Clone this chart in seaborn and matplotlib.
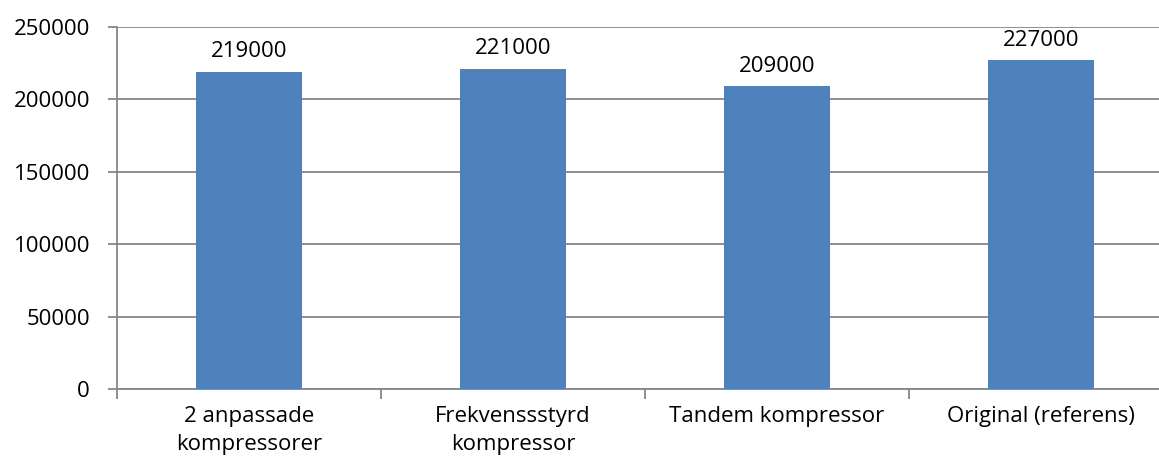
import matplotlib
matplotlib.use("Agg")
import matplotlib.pyplot as plt
import seaborn as sns
import pandas as pd

# Data
categories = ["2 anpassade\nkompressorer", "Frekvenssstyrd\nkompressor",
              "Tandem kompressor", "Original (referens)"]
values = [219000, 221000, 209000, 227000]
yticks = [0, 50000, 100000, 150000, 200000, 250000]

df = pd.DataFrame({"Alternativ": categories, "Värde": values})

sns.set_style("white")
plt.rcParams["font.family"] = ["Open Sans", "DejaVu Sans"]
plt.rcParams["text.color"] = "black"
plt.rcParams["xtick.color"] = "black"
plt.rcParams["ytick.color"] = "black"

grid_color = "#868686"
fs = 16

fig = plt.figure(figsize=(11.59, 4.67), dpi=100)
# plot area runs slightly past the right edge of the picture, as in the original
ax = fig.add_axes([0.101, 0.167, 0.911, 0.775])

sns.barplot(data=df, x="Alternativ", y="Värde", color="#4F81BD",
            width=0.40, saturation=1, edgecolor="none", linewidth=0,
            ax=ax, zorder=3)

# Value labels above bars
for c in ax.containers:
    ax.bar_label(c, labels=[str(v) for v in values], padding=7,
                 fontsize=fs, color="black")

ax.set_ylim(0, 250000)
ax.set_xlim(-0.5, len(categories) - 0.5)
ax.set_yticks(yticks)
ax.set_yticklabels([str(t) for t in yticks], fontsize=fs)
ax.set_xticks(range(len(categories)))
ax.set_xticklabels(categories, fontsize=fs, linespacing=1.45)
ax.yaxis.grid(True, color=grid_color, linewidth=1.3, zorder=0)
ax.set_axisbelow(True)

# Category boundaries as tick marks
ax.set_xticks([i - 0.5 for i in range(len(categories))], minor=True)
ax.tick_params(axis="x", which="major", bottom=True, length=0,
               labelcolor="black", pad=12)
ax.tick_params(axis="x", which="minor", bottom=True, length=7,
               color=grid_color, width=1.3, direction="out")
ax.tick_params(axis="y", left=True, length=6.5, color=grid_color, width=1.3,
               direction="out", pad=13, labelcolor="black")

for s in ["top", "right"]:
    ax.spines[s].set_visible(False)
for s in ["left", "bottom"]:
    ax.spines[s].set_color(grid_color)
    ax.spines[s].set_linewidth(1.3)

ax.set_xlabel("")
ax.set_ylabel("")

plt.savefig("out.png", dpi=100)
